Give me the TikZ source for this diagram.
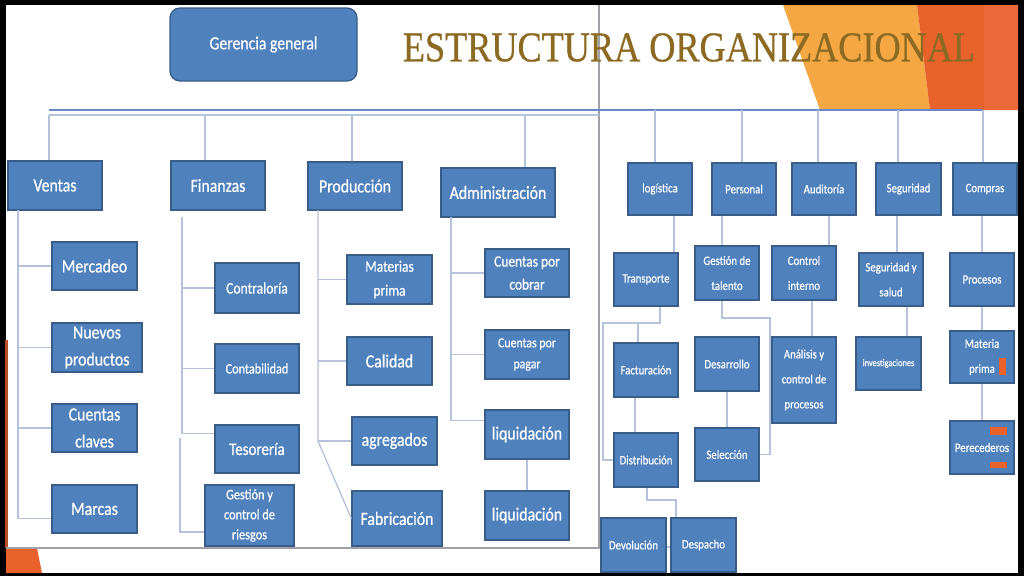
\documentclass[tikz,border=0pt]{standalone}
\usepackage{fontspec}
\setmainfont{Carlito}[FakeStretch=0.85, FakeBold=0.6]
\newfontfamily\titlefont{Liberation Serif}[FakeBold=0.8]
\usepackage{graphicx}
\usepackage{tikz}
\definecolor{boxblue}{RGB}{79,129,189}
\definecolor{boxedge}{RGB}{56,93,138}
\definecolor{linkgray}{RGB}{182,193,220}
\definecolor{mainblue}{RGB}{104,137,198}
\definecolor{framegray}{RGB}{160,160,166}
\definecolor{titlebrown}{RGB}{140,106,34}
\definecolor{lightorange}{RGB}{244,167,66}
\definecolor{darkorange}{RGB}{233,98,44}
\definecolor{edgeorange}{RGB}{234,104,58}
\tikzstyle{box} = [draw=boxedge, fill=boxblue, text=white, line width=1.3pt, inner sep=1pt, align=center]
\tikzstyle{lbox} = [box, minimum width=85, minimum height=48, font=\fontsize{18.6}{27}\selectfont]
\tikzstyle{rbox} = [box, minimum width=64, minimum height=53, font=\fontsize{12.7}{25}\selectfont]
\tikzstyle{link} = [draw=linkgray, line width=1.3pt]
\tikzstyle{mainline} = [draw=mainblue, line width=2pt]

\begin{document}
\begin{tikzpicture}[x=1pt,y=-1pt]
  \useasboundingbox (0,0) rectangle (1024,576);
  \fill[black] (0,0) rectangle (1024,576);
  \fill[white] (6,5) rectangle (1018,573);
  \fill[lightorange] (783,5) -- (917,5) -- (930,110) -- (820,110) -- cycle;
  \fill[darkorange] (917,5) -- (1018,5) -- (1018,110) -- (930,110) -- cycle;
  \fill[edgeorange] (984,5) rectangle (1018,110);
  \fill[darkorange] (6,548) -- (37,548) -- (42,573) -- (6,573) -- cycle;
  \fill[darkorange!80!black] (5,340) rectangle (8,548);
  \draw[framegray, line width=1.3pt] (599,5) -- (599,548) -- (6,548);

  \node[box, rounded corners=10, minimum width=187, minimum height=73, font=\fontsize{18.5}{22}\selectfont] (gerencia) at (263.5,44.5) {Gerencia general};
  \node[inner sep=0, text=titlebrown, font=\titlefont] (titulo) at (689,47.5) {\resizebox{572pt}{28pt}{ESTRUCTURA ORGANIZACIONAL}};

  \coordinate (h1) at (49,110);
  \coordinate (h2) at (983,110);
  \coordinate (l1) at (49,115);
  \coordinate (l2) at (599,115);
  \coordinate (dfin) at (205,115);
  \coordinate (dprod) at (352,115);
  \coordinate (dadm) at (525,115);
  \coordinate (r1) at (655,110);
  \coordinate (r2) at (742,110);
  \coordinate (r3) at (818,110);
  \coordinate (r4) at (898,110);
  \coordinate (r5) at (983,110);

  \node[lbox, minimum width=94, minimum height=49] (ventas) at (55,185.5) {Ventas};
  \node[lbox, minimum width=94, minimum height=49] (finanzas) at (218,185.5) {Finanzas};
  \node[lbox, minimum width=94] (produccion) at (355,186) {Producción};
  \node[lbox, minimum width=114, minimum height=49] (admin) at (498,192.5) {Administración};

  \node[lbox] (mercadeo) at (94.5,266) {Mercadeo};
  \node[lbox, minimum width=90, minimum height=49] (nuevos) at (97,347.5) {Nuevos\\productos};
  \node[lbox] (claves) at (94.5,428) {Cuentas\\claves};
  \node[lbox] (marcas) at (94.5,509) {Marcas};

  \node[lbox, minimum width=84, minimum height=50, font=\fontsize{16}{22}\selectfont] (contraloria) at (257,288) {Contraloría};
  \node[lbox, minimum width=84, minimum height=49, font=\fontsize{14.4}{20}\selectfont] (contabilidad) at (257,368.5) {Contabilidad};
  \node[lbox, minimum width=84, font=\fontsize{17.6}{22}\selectfont] (tesoreria) at (257,449) {Tesorería};
  \node[lbox, minimum width=89, minimum height=61, font=\fontsize{14.5}{20}\selectfont] (riesgos) at (249.5,515.5) {Gestión y\\control de\\riesgos};

  \node[lbox, minimum height=49, font=\fontsize{15.9}{24}\selectfont] (materias) at (389.5,279.5) {Materias\\prima};
  \node[lbox] (calidad) at (389.5,361) {Calidad};
  \node[lbox] (agregados) at (394.5,441) {agregados};
  \node[lbox, minimum width=90, minimum height=55] (fabricacion) at (397,518.5) {Fabricación};

  \node[lbox, minimum width=84, font=\fontsize{15.8}{23}\selectfont] (cobrar) at (527,273) {Cuentas por\\cobrar};
  \node[lbox, minimum width=84, minimum height=49, font=\fontsize{13.9}{21}\selectfont] (pagar) at (527,354.5) {Cuentas por\\pagar};
  \node[lbox, minimum width=84, minimum height=49] (liq1) at (527,434.5) {liquidación};
  \node[lbox, minimum width=84, minimum height=49] (liq2) at (527,515.5) {liquidación};

  \node[rbox, minimum height=52] (logistica) at (660,189) {logística};
  \node[rbox, minimum height=52] (personal) at (744,189) {Personal};
  \node[rbox, minimum height=52] (auditoria) at (824,189) {Auditoría};
  \node[rbox, minimum width=65, minimum height=52] (seguridad) at (908.5,189) {Seguridad};
  \node[rbox, minimum height=52] (compras) at (985,189) {Compras};

  \node[rbox] (transporte) at (646,279.5) {Transporte};
  \node[rbox, minimum height=54] (facturacion) at (646,370) {Facturación};
  \node[rbox, minimum height=54] (distribucion) at (646,460) {Distribución};
  \node[rbox, minimum width=65, minimum height=54] (devolucion) at (633.5,545) {Devolución};
  \node[rbox, minimum width=65, minimum height=54] (despacho) at (703.5,545) {Despacho};

  \node[rbox, minimum height=54] (talento) at (727,273) {Gestión de\\talento};
  \node[rbox, minimum height=54] (desarrollo) at (727,364) {Desarrollo};
  \node[rbox] (seleccion) at (727,454.5) {Selección};

  \node[rbox, minimum height=54] (controli) at (804,273) {Control\\interno};
  \node[rbox, minimum height=86] (analisis) at (804,380) {Análisis y\\control de\\procesos};

  \node[rbox] (salud) at (891,279.5) {Seguridad y\\salud};
  \node[rbox, minimum width=65, font=\fontsize{9.9}{12}\selectfont] (investigaciones) at (888.5,363.5) {investigaciones};

  \node[rbox] (procesos) at (982,279.5) {Procesos};
  \node[rbox, minimum height=52] (materiap) at (982,357) {Materia\\prima};
  \node[rbox] (perecederos) at (982,447.5) {Perecederos};

  \draw[mainline] (h1) -- (h2);
  \draw[link] (l1) -- (l2);
  \draw[link] (l1) -- (l1 |- ventas.north);
  \draw[link] (dfin) -- (dfin |- finanzas.north);
  \draw[link] (dprod) -- (dprod |- produccion.north);
  \draw[link] (dadm) -- (dadm |- admin.north);
  \draw[link] (r1) -- (r1 |- logistica.north);
  \draw[link] (r2) -- (r2 |- personal.north);
  \draw[link] (r3) -- (r3 |- auditoria.north);
  \draw[link] (r4) -- (r4 |- seguridad.north);
  \draw[link] (r5) -- (r5 |- compras.north);

  \coordinate (vt) at (18,210);
  \draw[link] (vt) |- (marcas.192);
  \draw[link] (vt |- mercadeo.west) -- (mercadeo.west);
  \draw[link] (vt |- nuevos.west) -- (nuevos.west);
  \draw[link] (vt |- claves.west) -- (claves.west);

  \coordinate (ft) at (182,217);
  \coordinate (ft2) at (180,438);
  \draw[link] (ft) |- (tesoreria.160);
  \draw[link] (ft |- contraloria.west) -- (contraloria.west);
  \draw[link] (ft |- contabilidad.west) -- (contabilidad.west);
  \draw[link] (ft2) |- (riesgos.200);

  \coordinate (pt) at (318,210);
  \coordinate (pb) at (318,441);
  \draw[link] (pt) -- (pb) -- (fabricacion.west);
  \draw[link] (pt |- materias.west) -- (materias.west);
  \draw[link] (pt |- calidad.west) -- (calidad.west);
  \draw[link] (pb) -- (agregados.west);

  \coordinate (at) at (451,217);
  \draw[link] (at) |- (liq1.162);
  \draw[link] (at |- cobrar.west) -- (cobrar.west);
  \draw[link] (at |- pagar.west) -- (pagar.west);
  \draw[link] (liq1) -- (liq2);

  \coordinate (lg1) at (660,323);
  \coordinate (lg2) at (603,323);
  \coordinate (lg3) at (638,323);
  \coordinate (lg4) at (676,500);
  \draw[link] ([xshift=14pt]logistica.south) -- ([xshift=14pt]logistica.south |- transporte.north);
  \draw[link] (lg1 |- transporte.south) -- (lg1) -- (lg2) |- (distribucion.west);
  \draw[link] (lg3) -- (lg3 |- facturacion.north);
  \draw[link] ([xshift=-11pt]facturacion.south) -- ([xshift=-11pt]distribucion.north);
  \draw[link] ([xshift=1pt]distribucion.south) |- (lg4) -- (lg4 |- despacho.north);
  \draw[link] ([yshift=-2pt]devolucion.east) -- ([yshift=-2pt]despacho.west);

  \coordinate (ps1) at (770,318);
  \draw[link] ([xshift=-22pt]personal.south) -- ([xshift=-22pt]personal.south |- talento.north);
  \draw[link] ([xshift=-5pt]talento.south) |- (ps1) |- (seleccion.east);
  \draw[link] (desarrollo) -- (seleccion);

  \draw[link] ([xshift=5pt]auditoria.south) -- ([xshift=5pt]auditoria.south |- controli.north);
  \draw[link] ([xshift=8pt]controli.south) -- ([xshift=8pt]controli.south |- analisis.north);

  \draw[link] ([xshift=-11.5pt]seguridad.south) -- ([xshift=-11.5pt]seguridad.south |- salud.north);
  \draw[link] ([xshift=16pt]salud.south) -- ([xshift=16pt]salud.south |- investigaciones.north);

  \draw[link] (compras.south -| procesos.north) -- (procesos.north);
  \draw[link] (procesos) -- (materiap);
  \draw[link] (materiap) -- (perecederos);

  \fill[darkorange] (999,358) rectangle (1006,375);
  \fill[darkorange] (990,427) rectangle (1007,435);
  \fill[darkorange] (990,462) rectangle (1007,468);
\end{tikzpicture}
\end{document}
